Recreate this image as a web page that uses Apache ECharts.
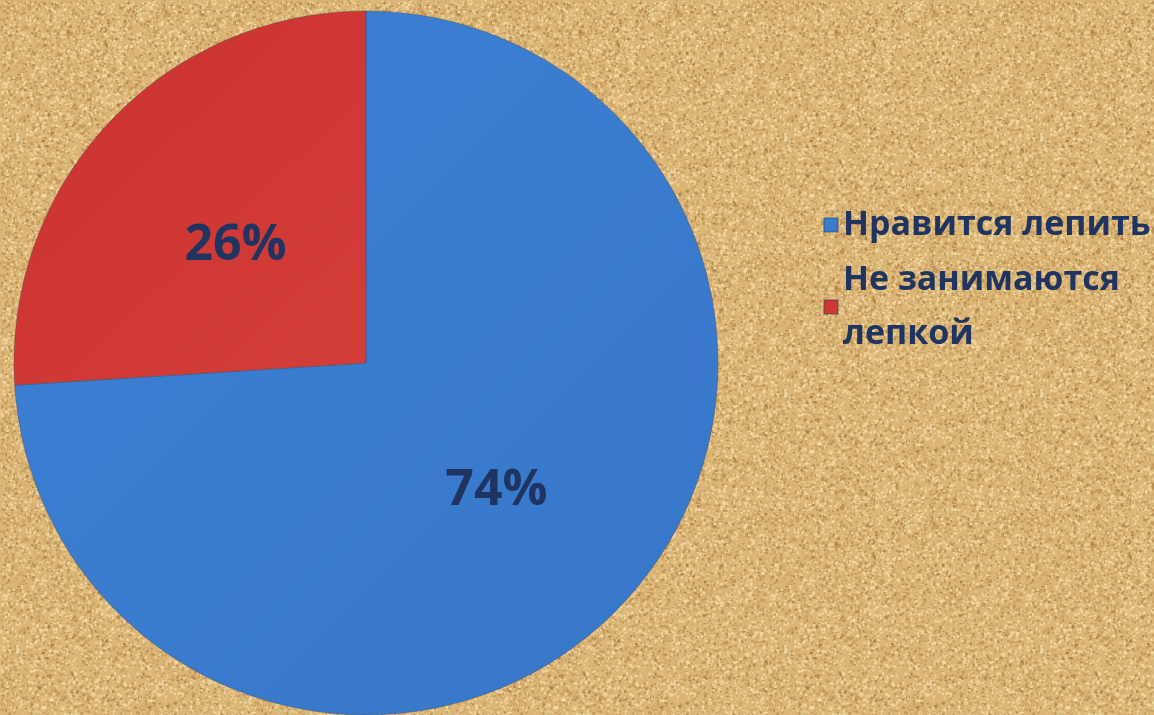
<!DOCTYPE html>
<html>
<head>
<meta charset="utf-8">
<script src="https://cdn.jsdelivr.net/npm/echarts@6/dist/echarts.min.js"></script>
<style>
  html, body { margin: 0; padding: 0; }
  #chart { width: 1154px; height: 715px; }
</style>
</head>
<body>
<div id="chart"></div>
<script>
const categories = ['Нравится лепить', 'Не занимаются\nлепкой']
const values = [74, 26]
const colors = ['#3a7bcf', '#d03a36']

// sand texture (decoration only), seeded so every render is the same
function sandPattern() {
  const c = document.createElement('canvas')
  c.width = 256
  c.height = 256
  const ctx = c.getContext('2d')
  ctx.fillStyle = '#dbb676'
  ctx.fillRect(0, 0, 256, 256)
  let seed = 12345
  const rnd = () => {
    seed = (seed * 1103515245 + 12345) % 2147483648
    return seed / 2147483648
  }
  for (let i = 0; i < 9000; i++) {
    const x = rnd() * 256
    const y = rnd() * 256
    const t = rnd()
    if (t < 0.45) ctx.fillStyle = 'rgba(245,222,170,0.7)'
    else if (t < 0.8) ctx.fillStyle = 'rgba(190,145,80,0.55)'
    else ctx.fillStyle = 'rgba(150,105,50,0.45)'
    ctx.fillRect(x, y, 1 + rnd() * 2, 1 + rnd() * 2)
  }
  return c
}

const chart = echarts.init(document.getElementById('chart'))
chart.setOption({
  backgroundColor: { image: sandPattern(), repeat: 'repeat' },
  animation: false,
  color: colors,
  legend: {
    orient: 'vertical',
    left: 818,
    top: 193,
    itemWidth: 14,
    itemHeight: 14,
    itemGap: 1,
    icon: 'rect',
    data: categories,
    textStyle: {
      fontFamily: 'Open Sans',
      fontWeight: 'bold',
      fontSize: 34,
      lineHeight: 54,
      color: '#1f3460',
    },
  },
  series: [
    {
      type: 'pie',
      center: [366, 363],
      radius: 352,
      startAngle: 90,
      clockwise: true,
      percentPrecision: 0,
      itemStyle: { borderColor: 'rgba(60,60,90,0.35)', borderWidth: 1 },
      label: {
        show: true,
        position: 'inside',
        formatter: '{d}%',
        fontFamily: 'Open Sans',
        fontWeight: 'bold',
        fontSize: 50,
        offset: [0, 5],
        color: '#1f3460',
      },
      labelLine: { show: false },
      emphasis: { disabled: true },
      data: categories.map((name, i) => ({
        name,
        value: values[i],
        itemStyle: {
          color: new echarts.graphic.LinearGradient(0, 0, 1, 1, [
            { offset: 0, color: i === 0 ? '#3d80d4' : '#c9322f' },
            { offset: 1, color: i === 0 ? '#3777c8' : '#d43e39' },
          ]),
        },
      })),
    },
  ],
})
</script>
</body>
</html>
